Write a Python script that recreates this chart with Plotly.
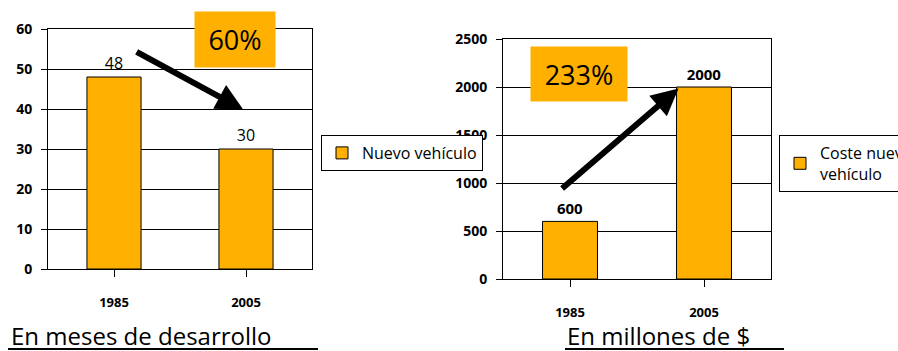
import plotly.graph_objects as go

W, H = 898, 351

years = ["1985", "2005"]
meses = [48, 30]
costes = [600, 2000]
meses_ticks = [0, 10, 20, 30, 40, 50, 60]
costes_ticks = [0, 500, 1000, 1500, 2000, 2500]
name_left = "Nuevo vehículo"
name_right = "Coste nuevo<br>vehículo"
pct_left = "60%"
pct_right = "233%"
title_left = "En meses de desarrollo"
title_right = "En millones de $"

ORANGE = "#FFB000"
FONT = "Open Sans"

def px_x(p):
    return p / W

def px_y(p):
    return 1 - p / H

fig = go.Figure()

fig.add_trace(go.Bar(
    x=[0, 1], y=meses, name=name_left, width=0.41,
    marker=dict(color=ORANGE, line=dict(color="black", width=1)),
    text=[str(v) for v in meses], textposition="outside",
    textfont=dict(family=FONT, size=16, color="black"),
    cliponaxis=False, xaxis="x", yaxis="y", legend="legend",
))
fig.add_trace(go.Bar(
    x=[0, 1], y=costes, name=name_right, width=0.41,
    marker=dict(color=ORANGE, line=dict(color="black", width=1)),
    text=[str(v) for v in costes], textposition="outside",
    textfont=dict(family=FONT, size=15, color="black", weight="bold"),
    cliponaxis=False, xaxis="x2", yaxis="y2", legend="legend2",
))

axis_common = dict(showline=True, linecolor="black", linewidth=1, mirror=True)
xcommon = dict(
    tickmode="array", tickvals=[0, 1], ticktext=years, range=[-0.5, 1.5],
    ticks="outside", tickson="boundaries", ticklen=7, tickcolor="black", tickwidth=1,
    tickfont=dict(family=FONT, size=13, color="black", weight="bold"),
    ticklabelstandoff=14, showgrid=False, zeroline=False, **axis_common,
)
ycommon = dict(ticks="outside", ticklen=6, tickcolor="black", showgrid=True,
               gridcolor="black", gridwidth=1, zeroline=False, ticklabelstandoff=6,
               tickfont=dict(family=FONT, size=14, color="black", weight="bold"),
               **axis_common)

fig.update_layout(
    width=W, height=H, margin=dict(l=0, r=0, t=0, b=0, autoexpand=False),
    paper_bgcolor="white", plot_bgcolor="white",
    showlegend=True,
    xaxis=dict(domain=[px_x(48), px_x(312)], anchor="y", **xcommon),
    yaxis=dict(domain=[px_y(269), px_y(29)], anchor="x", range=[0, 60],
               tickvals=meses_ticks, **ycommon),
    xaxis2=dict(domain=[px_x(503), px_x(771)], anchor="y2", **xcommon),
    yaxis2=dict(domain=[px_y(279), px_y(39)], anchor="x2", range=[0, 2500],
                tickvals=costes_ticks, **ycommon),
    legend=dict(x=px_x(321), y=px_y(135), xanchor="left", yanchor="top",
                bgcolor="white", bordercolor="black", borderwidth=1,
                font=dict(family=FONT, size=16, color="black"),
                itemwidth=30, tracegroupgap=0),
    legend2=dict(x=px_x(779), y=px_y(135), xanchor="left", yanchor="top",
                 bgcolor="white", bordercolor="black", borderwidth=1,
                 font=dict(family=FONT, size=16, color="black"),
                 itemwidth=30, tracegroupgap=0),
)

# Arrows (decorative)
fig.add_annotation(xref="x", yref="y", axref="x", ayref="y",
                   x=0.98, y=39.8, ax=0.16, ay=54.5, text="",
                   showarrow=True, arrowhead=2, arrowsize=0.9,
                   arrowwidth=6, arrowcolor="black")
fig.add_annotation(xref="x2", yref="y2", axref="x2", ayref="y2",
                   x=0.81, y=1985, ax=-0.07, ay=930, text="",
                   showarrow=True, arrowhead=2, arrowsize=0.9,
                   arrowwidth=6, arrowcolor="black")

# Percent boxes
fig.add_annotation(xref="paper", yref="paper", x=px_x(235), y=px_y(39.5),
                   xanchor="center", yanchor="middle",
                   text=pct_left, showarrow=False, bgcolor=ORANGE,
                   width=80, height=55, borderpad=0,
                   font=dict(family=FONT, size=27, color="black"))
fig.add_annotation(xref="paper", yref="paper", x=px_x(579), y=px_y(74),
                   xanchor="center", yanchor="middle",
                   text=pct_right, showarrow=False, bgcolor=ORANGE,
                   width=96, height=54, borderpad=0,
                   font=dict(family=FONT, size=27, color="black"))

# Titles with underline
fig.add_annotation(xref="paper", yref="paper", x=px_x(9), y=px_y(335),
                   xanchor="left", yanchor="middle", text=title_left,
                   showarrow=False, font=dict(family=FONT, size=24, color="black"))
fig.add_annotation(xref="paper", yref="paper", x=px_x(565), y=px_y(335),
                   xanchor="left", yanchor="middle", text=title_right,
                   showarrow=False, font=dict(family=FONT, size=24, color="black"))
fig.add_shape(type="line", xref="paper", yref="paper",
              x0=px_x(8), x1=px_x(318), y0=px_y(349), y1=px_y(349),
              line=dict(color="black", width=2))
fig.add_shape(type="line", xref="paper", yref="paper",
              x0=px_x(565), x1=px_x(784), y0=px_y(349), y1=px_y(349),
              line=dict(color="black", width=2))

fig.write_html("out.html")
